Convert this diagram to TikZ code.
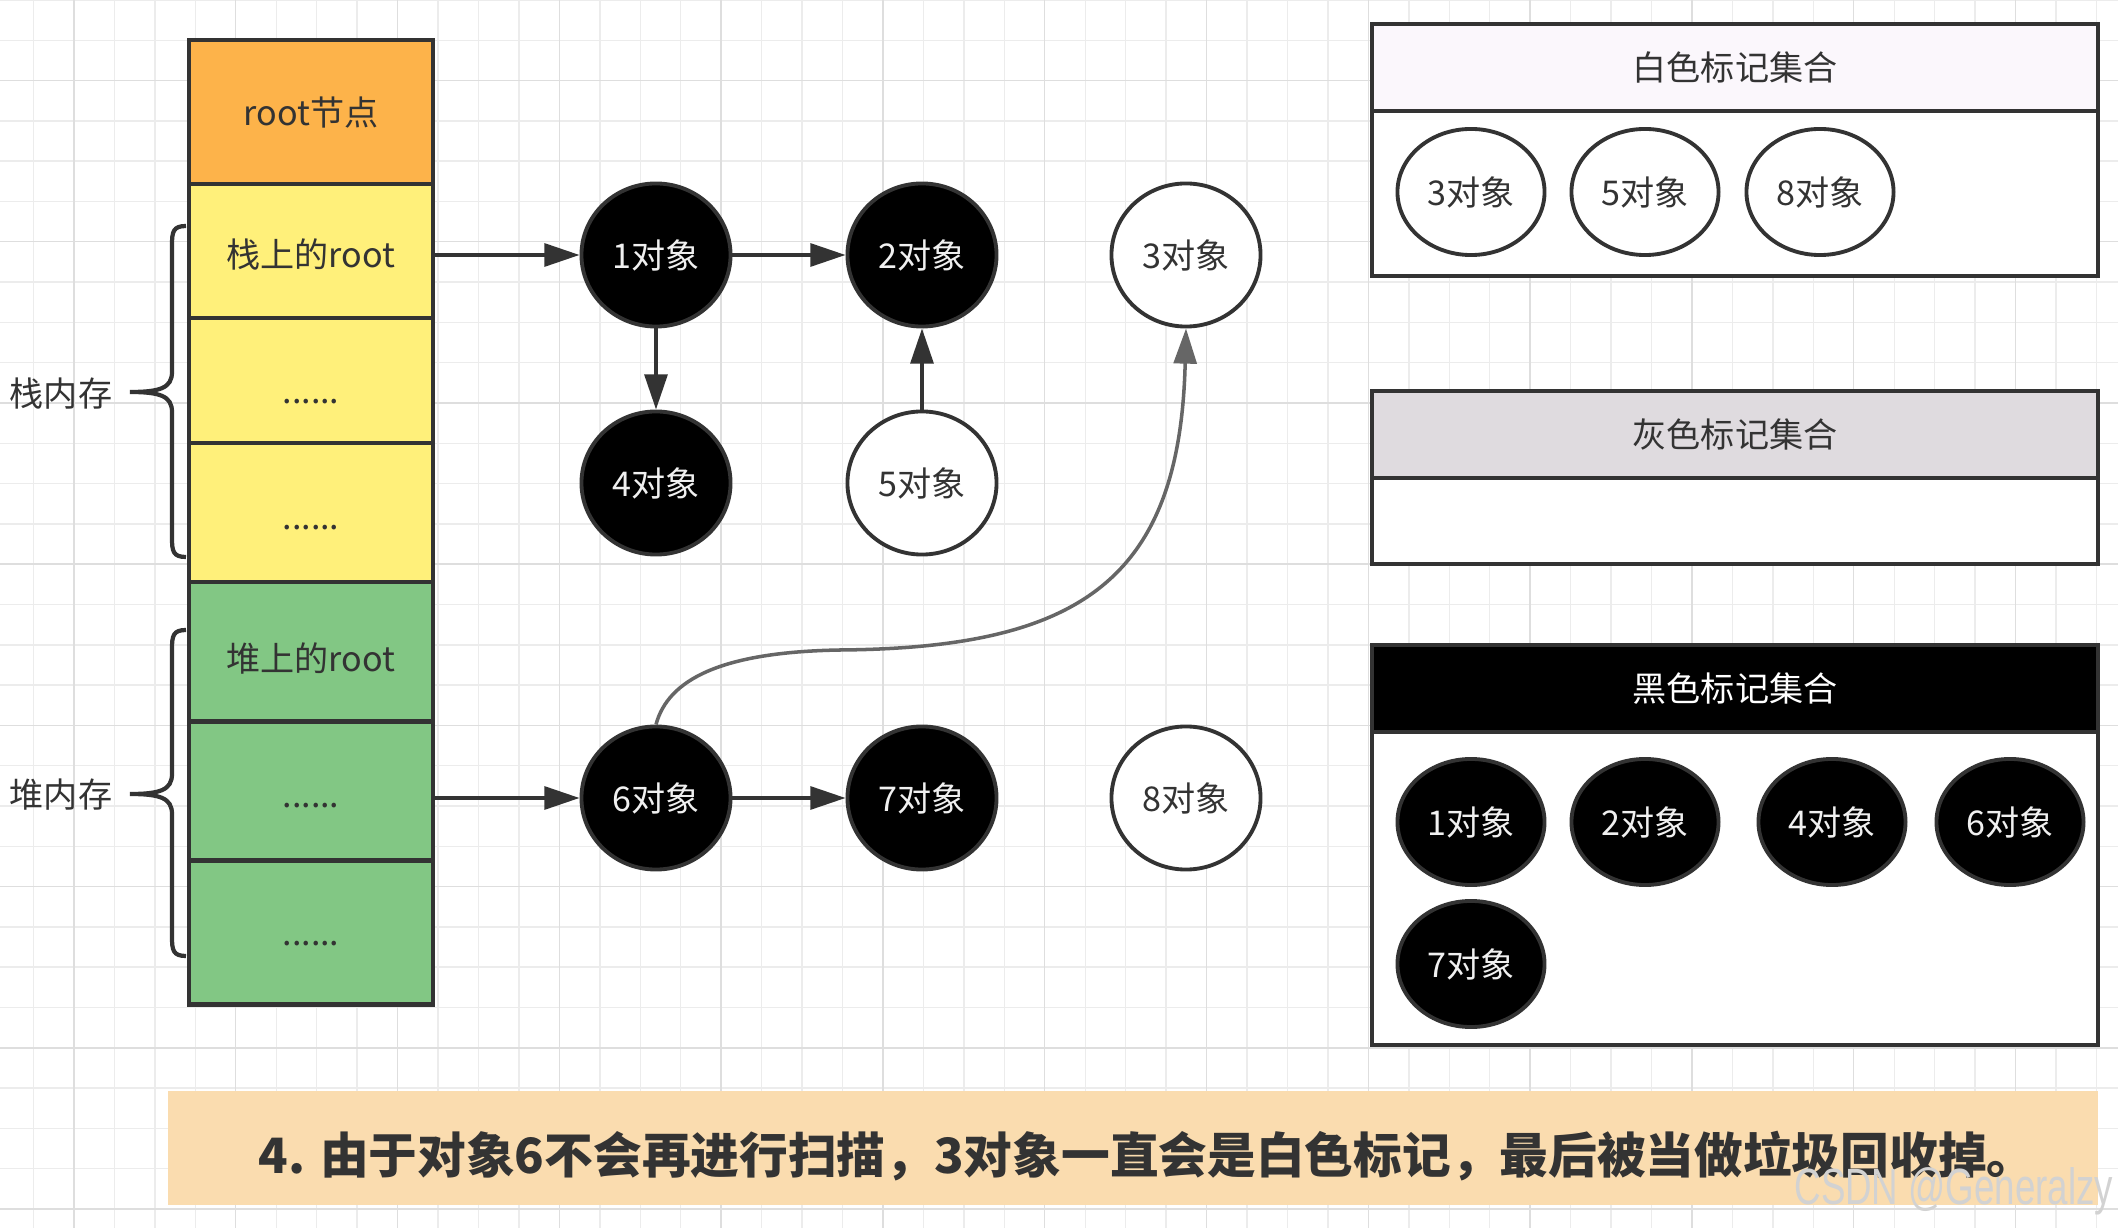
\documentclass[tikz,border=0pt]{standalone}
\usepackage{fontspec}
\setmainfont{Noto Sans CJK SC}
\newfontfamily\wmfont{Liberation Sans}
\usetikzlibrary{positioning,shapes.geometric,arrows.meta}
\definecolor{ink}{HTML}{333333}
\definecolor{rootorange}{HTML}{FDB34A}
\definecolor{stackyellow}{HTML}{FFF07A}
\definecolor{heapgreen}{HTML}{82C784}
\definecolor{whitehead}{HTML}{FBF7FC}
\definecolor{grayhead}{HTML}{DFDBDF}
\definecolor{notefill}{HTML}{FADCAF}
\definecolor{curvegray}{HTML}{666666}
\definecolor{gridminor}{HTML}{ECECEC}
\definecolor{gridmajor}{HTML}{DEDEDE}

\begin{document}
\begin{tikzpicture}[x=0.01cm, y=-0.01cm, text=ink,
    font=\fontsize{9.7}{11}\selectfont,
    cell/.style={draw=ink, line width=1.2pt, minimum width=2.44cm, inner sep=0, outer sep=0},
    obj/.style={ellipse, draw=ink, line width=1.1pt, minimum width=1.49cm, minimum height=1.43cm, inner sep=0},
    blackobj/.style={obj, fill=black, text=white!94!black},
    whiteobj/.style={obj, fill=white},
    setobj/.style={minimum width=1.47cm, minimum height=1.26cm},
    sethead/.style={draw=ink, line width=1.2pt, minimum width=7.26cm, minimum height=0.87cm, inner sep=0, outer sep=0},
    setbody/.style={draw=ink, line width=1.2pt, fill=white, minimum width=7.26cm, inner sep=0, outer sep=0},
    link/.style={draw=ink, line width=1pt, -{Triangle[length=10pt,width=6.5pt]}},
  ]
    \useasboundingbox (0,0) rectangle (2118,1228);
    \fill[white] (0,0) rectangle (2118,1228);
    \foreach \k in {0,...,51} \draw[gridminor, line width=0.4pt] ({33.5+40.45*\k},0) -- ++(0,1228);
    \foreach \k in {0,...,30} \draw[gridminor, line width=0.4pt] (0,{40.3*\k}) -- ++(2118,0);
    \foreach \k in {1,5,...,49} \draw[gridmajor, line width=0.4pt] ({33.5+40.45*\k},0) -- ++(0,1228);
    \foreach \k in {2,6,...,30} \draw[gridmajor, line width=0.4pt] (0,{40.3*\k}) -- ++(2118,0);

    \node[cell, fill=rootorange, minimum height=1.44cm, anchor=north] (root) at (311,40) {root节点};
    \node[cell, fill=stackyellow, minimum height=1.34cm, below=0pt of root] (s1) {\raisebox{-1.6mm}[0pt][0pt]{栈上的root}};
    \node[cell, fill=stackyellow, minimum height=1.25cm, below=0pt of s1] (s2) {\raisebox{-2.3mm}[0pt][0pt]{......}};
    \node[cell, fill=stackyellow, minimum height=1.39cm, below=0pt of s2] (s3) {\raisebox{-1.65mm}[0pt][0pt]{......}};
    \node[cell, fill=heapgreen, minimum height=1.39cm, below=0pt of s3] (h1) {\raisebox{-1.95mm}[0pt][0pt]{堆上的root}};
    \node[cell, fill=heapgreen, minimum height=1.39cm, below=0pt of h1] (h2) {\raisebox{-1.65mm}[0pt][0pt]{......}};
    \node[cell, fill=heapgreen, minimum height=1.44cm, below=0pt of h2] (h3) {\raisebox{-1.25mm}[0pt][0pt]{......}};

    \foreach \a/\m/\b in {226/392/557, 630/794/956}
      \draw[ink, line width=1.2pt] (186,\a) .. controls (173,\a) and (172,\a+6) .. (172,\a+19)
        -- (172,\m-20) .. controls (172,\m-4) and (160,\m) .. (130,\m)
        .. controls (160,\m) and (172,\m+4) .. (172,\m+20)
        -- (172,\b-19) .. controls (172,\b-6) and (173,\b) .. (186,\b);
    \node (stacklbl) at (61,394) {栈内存};
    \node (heaplbl) at (61,795) {堆内存};

    \node[blackobj] (o1) at (656,255) {1对象};
    \node[blackobj] (o2) at (922,255) {2对象};
    \node[whiteobj] (o3) at (1186,255) {3对象};
    \node[blackobj] (o4) at (656,483) {4对象};
    \node[whiteobj] (o5) at (922,483) {5对象};
    \node[blackobj] (o6) at (656,798) {6对象};
    \node[blackobj] (o7) at (922,798) {7对象};
    \node[whiteobj] (o8) at (1186,798) {8对象};

    \draw[link] (s1.east |- o1) -- (o1);
    \draw[link] (o1) -- (o2);
    \draw[link] (o1) -- (o4);
    \draw[link] (o5) -- (o2);
    \draw[link] (h2.east |- o6) -- (o6);
    \draw[link] (o6) -- (o7);
    \draw[link, draw=curvegray, line width=1pt] (o6.north) .. controls (668,680) and (720,652) .. (840,650)
      .. controls (1080,648) and (1180,580) .. (o3.south);

    \node[sethead, fill=whitehead, anchor=north] (whiteset) at (1735,24) {白色标记集合};
    \node[setbody, minimum height=1.65cm, below=0pt of whiteset] (whitebox) {};
    \node[sethead, fill=grayhead, anchor=north] (grayset) at (1735,391) {灰色标记集合};
    \node[setbody, minimum height=0.86cm, below=0pt of grayset] (graybox) {};
    \node[sethead, fill=black, text=white, anchor=north] (blackset) at (1735,645) {黑色标记集合};
    \node[setbody, minimum height=3.13cm, below=0pt of blackset] (blackbox) {};

    \node[whiteobj, setobj] (w3) at (1471,192) {3对象};
    \node[whiteobj, setobj] (w5) at (1645,192) {5对象};
    \node[whiteobj, setobj] (w8) at (1820,192) {8对象};
    \node[blackobj, setobj] (b1) at (1471,822) {1对象};
    \node[blackobj, setobj] (b2) at (1645,822) {2对象};
    \node[blackobj, setobj] (b4) at (1832,822) {4对象};
    \node[blackobj, setobj] (b6) at (2010,822) {6对象};
    \node[blackobj, setobj] (b7) at (1471,964) {7对象};

    \node[fill=notefill, minimum width=19.28cm, minimum height=1.13cm, inner sep=0,
      font=\fontsize{13.85}{16}\selectfont\bfseries] (note) at (1133,1148)
      {\hspace*{2.8mm}\raisebox{-2.5mm}[0pt][0pt]{4. 由于对象6不会再进行扫描，3对象一直会是白色标记，最后被当做垃圾回收掉。}};
    \node[anchor=east, inner sep=0, text=gray!35, font=\wmfont\fontsize{14.5}{16}\selectfont] (mark) at (2114,1191)
      {\scalebox{0.72}[1]{CSDN @Generalzy}};
\end{tikzpicture}
\end{document}
